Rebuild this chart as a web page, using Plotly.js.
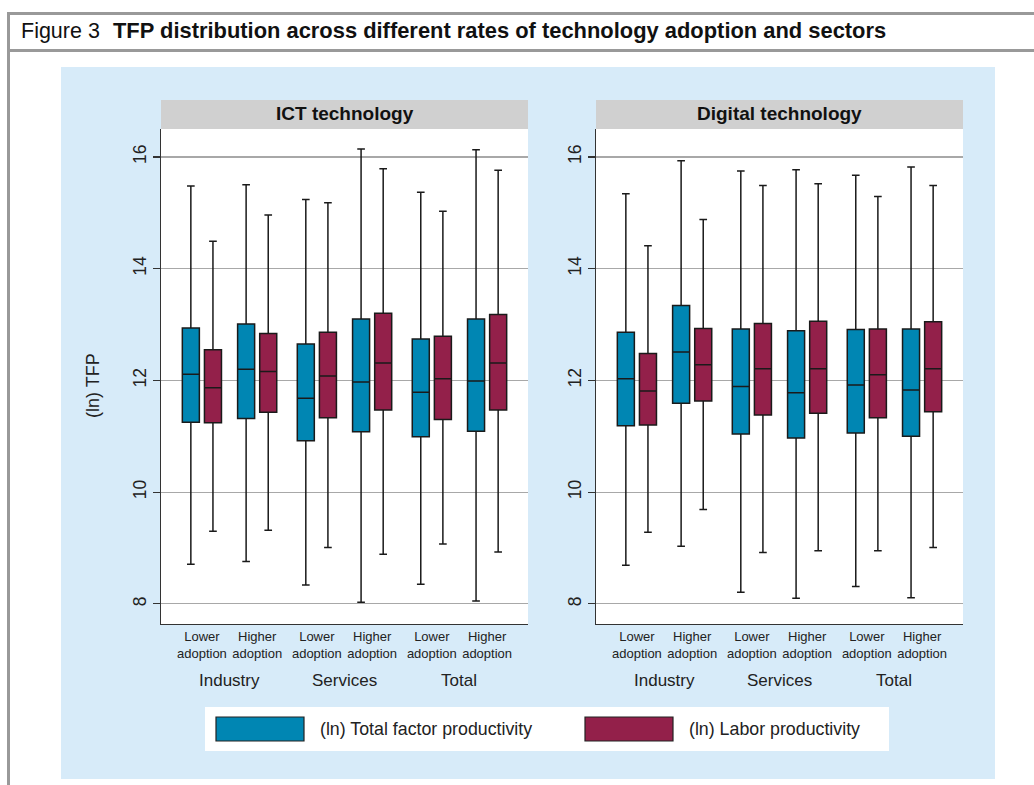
<!DOCTYPE html>
<html><head><meta charset="utf-8">
<script src="https://cdn.plot.ly/plotly-3.0.1.min.js"></script>
<style>html,body{margin:0;padding:0;background:#fff}#chart{width:1034px;height:785px}</style>
</head><body><div id="chart"></div>
<script>
// ---------- data ----------
const sectors = ['Industry', 'Services', 'Total'];
const adoption = ['Lower<br>adoption', 'Higher<br>adoption'];
const panels = ['ICT technology', 'Digital technology'];
const seriesNames = ['(ln) Total factor productivity', '(ln) Labor productivity'];
const yTitle = '(ln) TFP';
const yTicks = [8, 10, 12, 14, 16];
// box order: Industry-Lower, Industry-Higher, Services-Lower, Services-Higher, Total-Lower, Total-Higher
const boxSector = [0, 0, 1, 1, 2, 2];
const boxAdopt = [0, 1, 0, 1, 0, 1];

// ICT technology - (ln) TFP
const ictTfpLo  = [8.71, 8.76, 8.34, 8.03, 8.35, 8.05];
const ictTfpQ1  = [11.25, 11.32, 10.92, 11.08, 10.99, 11.09];
const ictTfpMed = [12.11, 12.20, 11.68, 11.97, 11.79, 11.99];
const ictTfpQ3  = [12.94, 13.01, 12.65, 13.10, 12.74, 13.10];
const ictTfpHi  = [15.48, 15.50, 15.24, 16.14, 15.37, 16.13];
// ICT technology - (ln) Labor productivity
const ictLpLo  = [9.30, 9.32, 9.01, 8.89, 9.07, 8.93];
const ictLpQ1  = [11.24, 11.43, 11.33, 11.47, 11.30, 11.47];
const ictLpMed = [11.87, 12.16, 12.08, 12.31, 12.03, 12.31];
const ictLpQ3  = [12.55, 12.84, 12.86, 13.20, 12.79, 13.18];
const ictLpHi  = [14.49, 14.96, 15.18, 15.79, 15.03, 15.76];
// Digital technology - (ln) TFP
const digTfpLo  = [8.69, 9.03, 8.21, 8.10, 8.31, 8.11];
const digTfpQ1  = [11.19, 11.59, 11.04, 10.97, 11.06, 11.00];
const digTfpMed = [12.03, 12.51, 11.89, 11.78, 11.92, 11.83];
const digTfpQ3  = [12.86, 13.34, 12.92, 12.89, 12.91, 12.92];
const digTfpHi  = [15.34, 15.93, 15.75, 15.77, 15.67, 15.82];
// Digital technology - (ln) Labor productivity
const digLpLo  = [9.28, 9.69, 8.92, 8.95, 8.95, 9.01];
const digLpQ1  = [11.20, 11.63, 11.38, 11.41, 11.33, 11.44];
const digLpMed = [11.81, 12.28, 12.21, 12.21, 12.10, 12.21];
const digLpQ3  = [12.48, 12.93, 13.02, 13.06, 12.92, 13.05];
const digLpHi  = [14.41, 14.88, 15.49, 15.52, 15.29, 15.49];

// ---------- styling ----------
const W = 1034, H = 785;
const FONT = 'Liberation Sans, Arial, Helvetica, sans-serif';
const colors = ['#0086b3', '#93204a'];
const bgBlue = '#d7ebf9';
const stripGray = '#d0d0d0';
const px = v => v / W;
const py = v => 1 - v / H;

const sectorGap = 0.08;
const pos = boxSector.map((s, i) => s * (2 + sectorGap) + boxAdopt[i]);
const tickText = boxAdopt.map(a => adoption[a]);
const sectorPos = sectors.map((_, s) => {
  const p = pos.filter((_, i) => boxSector[i] === s);
  return p.reduce((a, b) => a + b, 0) / p.length;
});

const panelData = [
  [[ictTfpLo, ictTfpQ1, ictTfpMed, ictTfpQ3, ictTfpHi], [ictLpLo, ictLpQ1, ictLpMed, ictLpQ3, ictLpHi]],
  [[digTfpLo, digTfpQ1, digTfpMed, digTfpQ3, digTfpHi], [digLpLo, digLpQ1, digLpMed, digLpQ3, digLpHi]]
];

const plotX = [[161, 528], [596, 963]];
const plotTop = 129, plotBot = 624;

const traces = [];
panelData.forEach((pd, p) => {
  const sfx = p === 0 ? '' : '2';
  pd.forEach((d, s) => {
    traces.push({
      type: 'box',
      name: seriesNames[s],
      x: pos,
      lowerfence: d[0], q1: d[1], median: d[2], q3: d[3], upperfence: d[4],
      fillcolor: colors[s],
      line: {color: '#1a1a1a', width: 1.5},
      whiskerwidth: 0.45,
      boxpoints: false,
      hoverinfo: 'skip',
      showlegend: false,
      alignmentgroup: 'panel' + p,
      offsetgroup: 'series' + s,
      xaxis: 'x' + sfx, yaxis: 'y' + sfx
    });
  });
});

const xRange = [-0.74, pos[pos.length - 1] + 0.74];
function xAxis(p) {
  return {
    domain: [px(plotX[p][0]), px(plotX[p][1])],
    range: xRange, fixedrange: true,
    tickvals: pos, ticktext: tickText, tickangle: 0,
    tickfont: {family: FONT, size: 13, color: '#222'},
    ticks: '', showgrid: false, zeroline: false,
    showline: true, linecolor: '#333', linewidth: 1.3,
    anchor: p === 0 ? 'y' : 'y2'
  };
}
function yAxis(p) {
  return {
    domain: [py(plotBot), py(plotTop)],
    range: [7.64, 16.5], fixedrange: true,
    tickvals: yTicks, ticktext: yTicks.map(String),
    tickangle: -90,
    tickfont: {family: FONT, size: 17.5, color: '#222'},
    ticks: 'outside', ticklen: 7, tickcolor: '#333', tickwidth: 1.2,
    showgrid: true, gridcolor: '#a8a8a8', gridwidth: 1.2,
    zeroline: false, showline: true, linecolor: '#333', linewidth: 1.3,
    anchor: p === 0 ? 'x' : 'x2'
  };
}

const shapes = [
  // frame
  {type: 'rect', xref: 'paper', yref: 'paper', x0: px(7), x1: px(1034), y0: py(12), y1: py(15), fillcolor: '#999', line: {width: 0}, layer: 'below'},
  {type: 'rect', xref: 'paper', yref: 'paper', x0: px(7), x1: px(1034), y0: py(49), y1: py(52), fillcolor: '#999', line: {width: 0}, layer: 'below'},
  {type: 'rect', xref: 'paper', yref: 'paper', x0: px(7), x1: px(10), y0: py(12), y1: py(785), fillcolor: '#999', line: {width: 0}, layer: 'below'},
  // light blue background
  {type: 'rect', xref: 'paper', yref: 'paper', x0: px(61), x1: px(995), y0: py(67), y1: py(779), fillcolor: bgBlue, line: {width: 0}, layer: 'below'}
];
const annotations = [
  {xref: 'paper', yref: 'paper', x: px(19), y: py(31), xanchor: 'left', yanchor: 'middle', showarrow: false,
   text: 'Figure 3', font: {family: FONT, size: 21.5, color: '#111'}},
  {xref: 'paper', yref: 'paper', x: px(111), y: py(31), xanchor: 'left', yanchor: 'middle', showarrow: false,
   text: '<b>TFP distribution across different rates of technology adoption and sectors</b>', font: {family: FONT, size: 21.9, color: '#111'}},
  {xref: 'paper', yref: 'paper', x: px(93), y: py(386), xanchor: 'center', yanchor: 'middle', showarrow: false, textangle: -90,
   text: yTitle, font: {family: FONT, size: 18, color: '#222'}}
];
panels.forEach((title, p) => {
  const sfx = p === 0 ? '' : '2';
  shapes.push({type: 'rect', xref: 'paper', yref: 'paper', x0: px(plotX[p][0]), x1: px(plotX[p][1]), y0: py(plotBot), y1: py(plotTop), fillcolor: '#fff', line: {width: 0}, layer: 'below'});
  shapes.push({type: 'rect', xref: 'paper', yref: 'paper', x0: px(plotX[p][0]), x1: px(plotX[p][1]), y0: py(129), y1: py(100), fillcolor: stripGray, line: {width: 0}, layer: 'below'});
  annotations.push({xref: 'paper', yref: 'paper', x: px((plotX[p][0] + plotX[p][1]) / 2), y: py(114), xanchor: 'center', yanchor: 'middle', showarrow: false,
    text: '<b>' + title + '</b>', font: {family: FONT, size: 19, color: '#111'}});
  sectors.forEach((sec, s) => {
    annotations.push({xref: 'x' + sfx, yref: 'paper', x: sectorPos[s], y: py(680), xanchor: 'center', yanchor: 'middle', showarrow: false,
      text: sec, font: {family: FONT, size: 17, color: '#222'}});
  });
});
// legend
shapes.push({type: 'rect', xref: 'paper', yref: 'paper', x0: px(205), x1: px(889), y0: py(751), y1: py(707), fillcolor: '#fff', line: {width: 0}, layer: 'below'});
const legX = [[216, 304, 318], [585, 673, 687]];
seriesNames.forEach((n, s) => {
  shapes.push({type: 'rect', xref: 'paper', yref: 'paper', x0: px(legX[s][0]), x1: px(legX[s][1]), y0: py(741), y1: py(717), fillcolor: colors[s], line: {width: 1.2, color: '#222'}, layer: 'above'});
  annotations.push({xref: 'paper', yref: 'paper', x: px(legX[s][2]), y: py(729), xanchor: 'left', yanchor: 'middle', showarrow: false,
    text: n, font: {family: FONT, size: 17.8, color: '#222'}});
});

const layout = {
  width: W, height: H,
  margin: {l: 0, r: 0, t: 0, b: 0},
  paper_bgcolor: '#fff', plot_bgcolor: 'rgba(0,0,0,0)',
  boxmode: 'group', boxgap: 0.2, boxgroupgap: 0.23,
  showlegend: false,
  xaxis: xAxis(0), yaxis: yAxis(0), xaxis2: xAxis(1), yaxis2: yAxis(1),
  shapes: shapes, annotations: annotations,
  font: {family: FONT}
};
Plotly.newPlot('chart', traces, layout, {displayModeBar: false, staticPlot: true});
</script></body></html>
